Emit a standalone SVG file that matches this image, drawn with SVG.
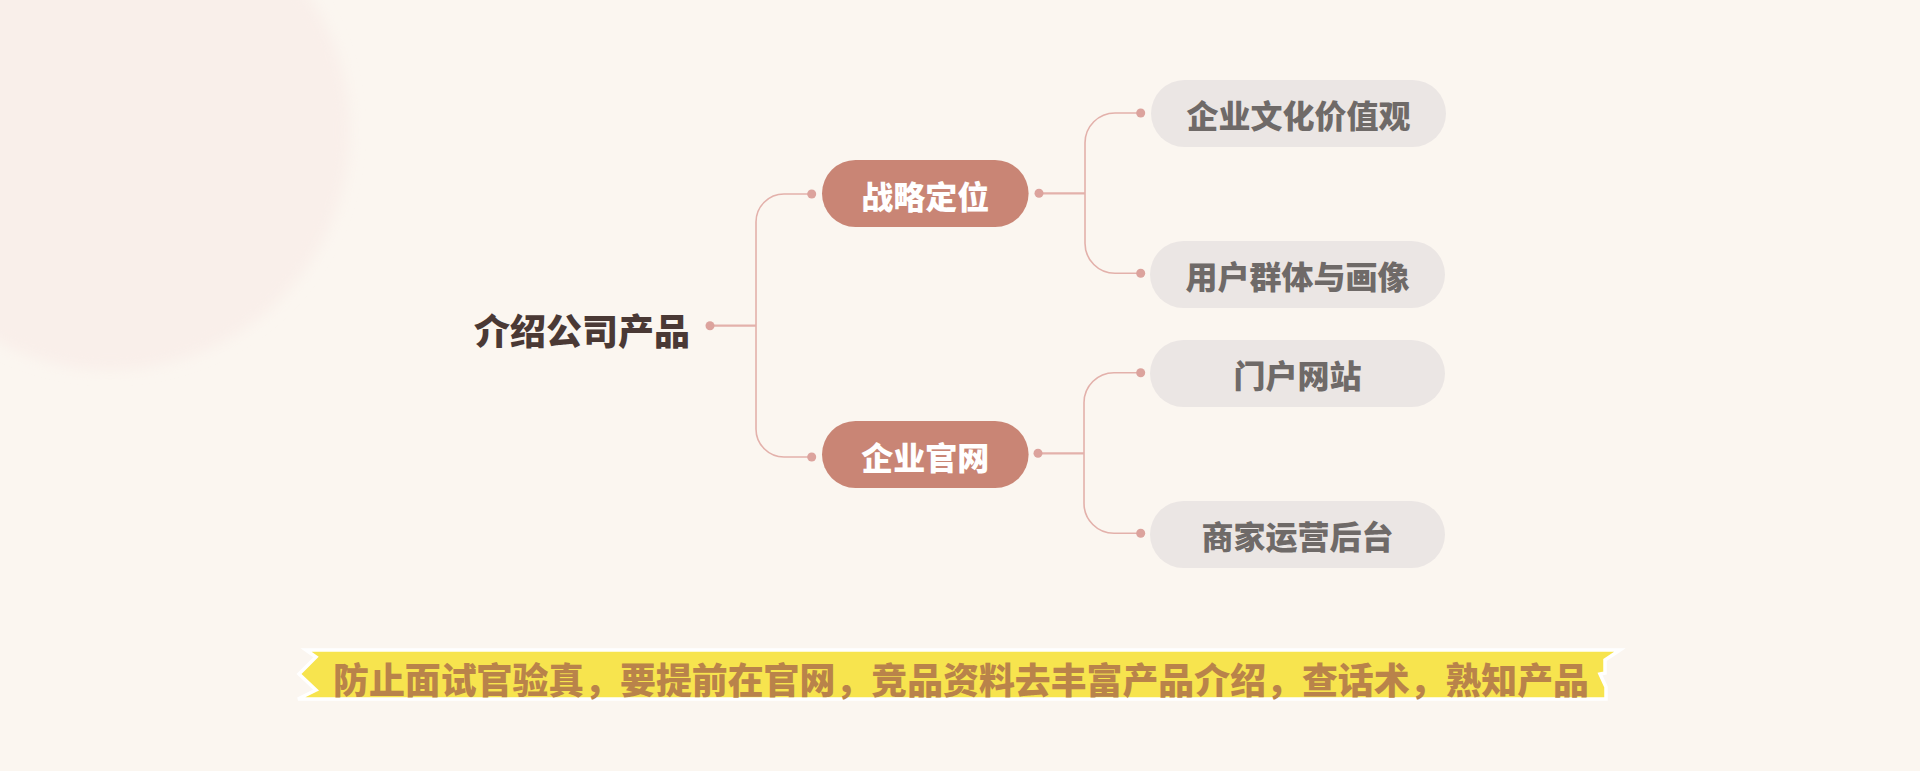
<svg xmlns="http://www.w3.org/2000/svg" width="1920" height="771" viewBox="0 0 1920 771">
<defs>
<filter id="blur" x="-20%" y="-20%" width="140%" height="140%"><feGaussianBlur stdDeviation="7"/></filter>
<style>
text{font-family:"Noto Sans CJK SC","Noto Sans",sans-serif;dominant-baseline:central;}
.root{font-size:36px;font-weight:900;fill:#4a3935;}
.main rect{fill:#c98575;}
.main text{font-size:32px;font-weight:900;fill:#ffffff;text-anchor:middle;}
.child rect{fill:#ebe6e4;}
.child text{font-size:32px;font-weight:900;fill:#6f6a68;text-anchor:middle;}
.conn path{fill:none;stroke:#e3b1ab;stroke-width:1.6;}
.conn path.h{stroke-width:2.2;}
.conn circle{fill:#dca39d;}
.note{font-size:36px;font-weight:900;fill:#b9834a;}
</style>
</defs>
<rect width="1920" height="771" fill="#fbf6f0"/>
<circle cx="110" cy="130" r="240" fill="#f9efea" filter="url(#blur)"/>

<g id="connectors" class="conn">
<path class="h" d="M710,325.7 H756"/>
<path d="M811.7,194 H784 A28,28 0 0 0 756,222 V429 A28,28 0 0 0 784,457 H811.7"/>
<circle cx="710" cy="325.7" r="4.5"/>
<circle cx="811.7" cy="194" r="4.5"/>
<circle cx="811.7" cy="457" r="4.5"/>

<path class="h" d="M1039,193.3 H1085"/>
<path d="M1140.7,113 H1115 A30,30 0 0 0 1085,143 V243.3 A30,30 0 0 0 1115,273.3 H1140.7"/>
<circle cx="1039" cy="193.3" r="4.5"/>
<circle cx="1140.7" cy="113" r="4.5"/>
<circle cx="1140.7" cy="273.3" r="4.5"/>

<path class="h" d="M1038,453.3 H1084"/>
<path d="M1140.7,372.7 H1114 A30,30 0 0 0 1084,402.7 V503.3 A30,30 0 0 0 1114,533.3 H1140.7"/>
<circle cx="1038" cy="453.3" r="4.5"/>
<circle cx="1140.7" cy="372.7" r="4.5"/>
<circle cx="1140.7" cy="533.3" r="4.5"/>
</g>

<g id="root"><text class="root" x="474" y="329">介绍公司产品</text></g>

<g id="n-zhanlue" class="main">
<rect x="822" y="160" width="206.6" height="67" rx="33.5"/>
<text x="925.3" y="194.5">战略定位</text>
</g>
<g id="n-guanwang" class="main">
<rect x="822" y="421" width="206.6" height="67" rx="33.5"/>
<text x="925.3" y="455.5">企业官网</text>
</g>

<g id="c1" class="child">
<rect x="1151" y="80" width="295" height="67" rx="33.5"/>
<text x="1298.5" y="114.3">企业文化价值观</text>
</g>
<g id="c2" class="child">
<rect x="1150" y="241" width="295" height="67" rx="33.5"/>
<text x="1297.5" y="275.3">用户群体与画像</text>
</g>
<g id="c3" class="child">
<rect x="1150" y="340" width="295" height="67" rx="33.5"/>
<text x="1297.5" y="374.3">门户网站</text>
</g>
<g id="c4" class="child">
<rect x="1150" y="501" width="295" height="67" rx="33.5"/>
<text x="1297.5" y="535.3">商家运营后台</text>
</g>

<g id="note">
<polygon points="306,650 1620,650 1605,660 1605,673 1600,674 1606,687 1606,699 298,699 316,690 299,674 316,657" fill="#f7e44e" stroke="#ffffff" stroke-width="3.5" stroke-linejoin="miter"/>
<text class="note" x="333" y="678.3" textLength="1256" lengthAdjust="spacingAndGlyphs">防止面试官验真，要提前在官网，竞品资料去丰富产品介绍，查话术，熟知产品</text>
</g>
</svg>
